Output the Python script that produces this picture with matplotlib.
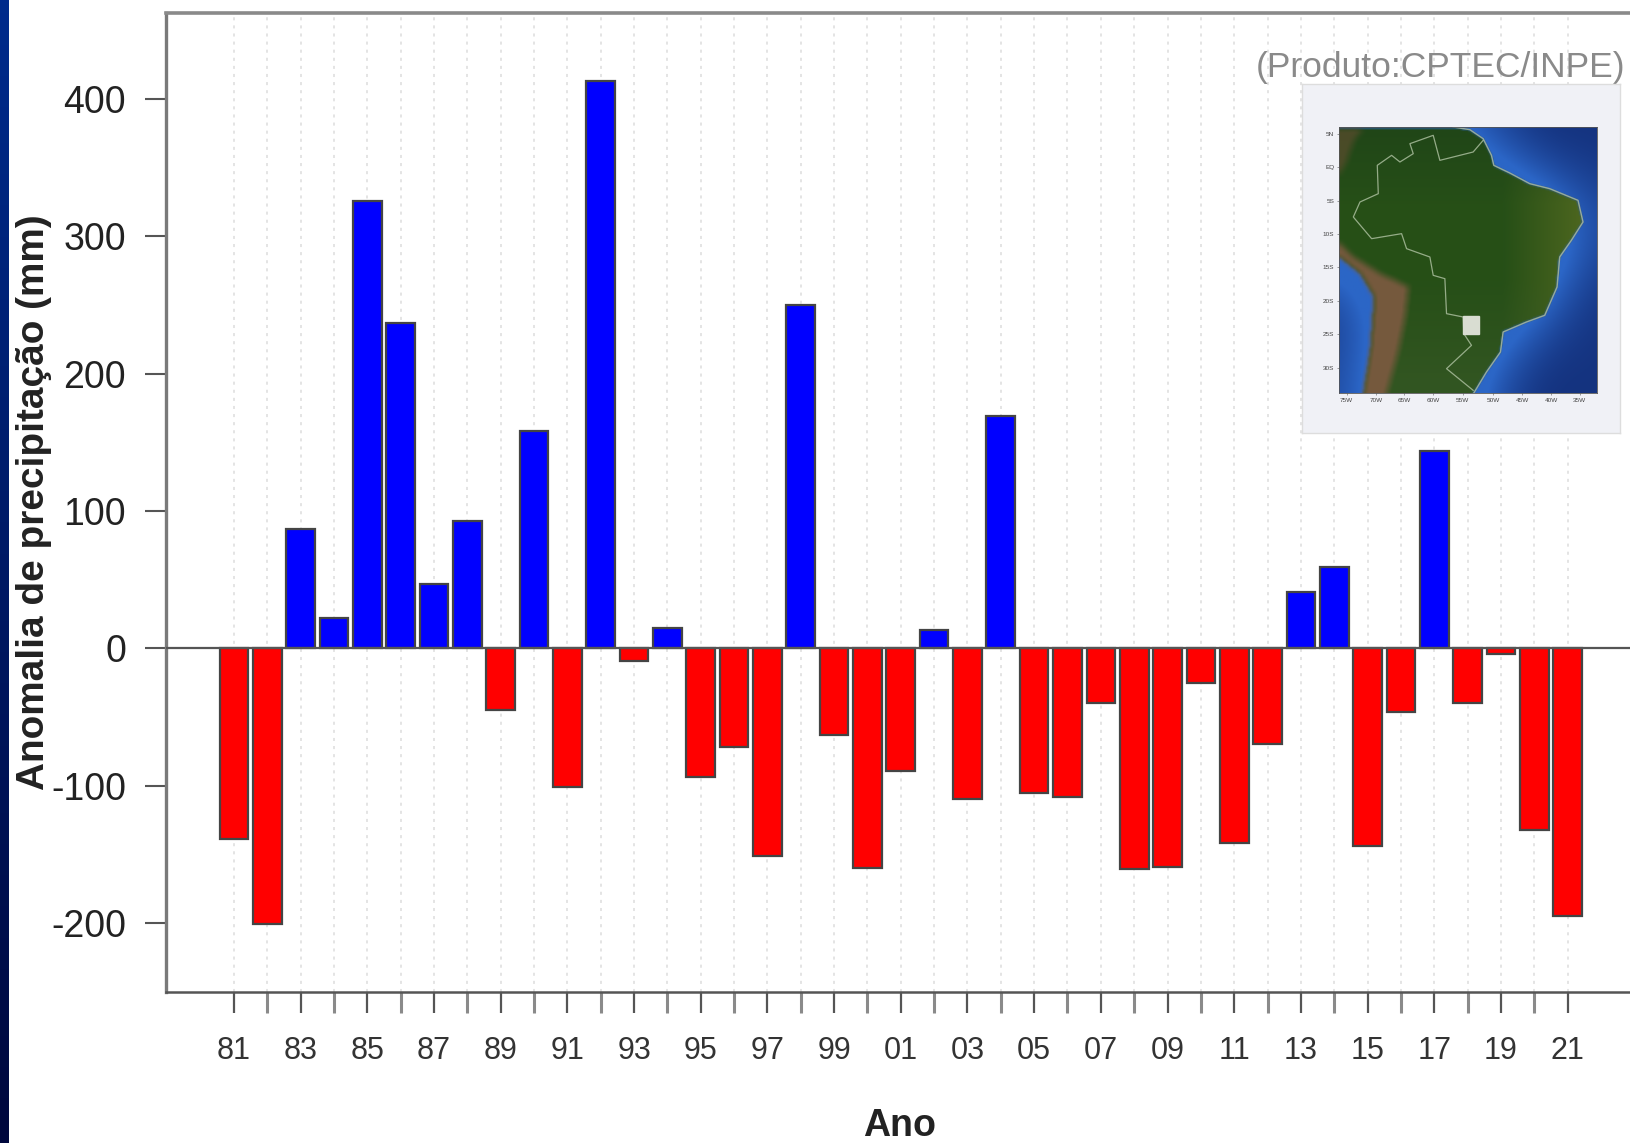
import numpy as np
import matplotlib
matplotlib.use("Agg")
import matplotlib.pyplot as plt
from matplotlib.path import Path

plt.rcParams['font.family'] = ['Liberation Sans', 'DejaVu Sans']

years = list(range(1981, 2022))
anomaly = [-139, -201, 87, 22, 326, 237, 47, 93, -45, 158, -101, 413, -9, 15, -94, -72, -151,
           250, -63, -160, -89, 13, -110, 169, -105, -108, -40, -161, -159, -25, -142, -70,
           41, 59, -144, -46, 144, -40, -4, -132, -195]
year_labels = [f"{y % 100:02d}" for y in years]
y_ticks = [-200, -100, 0, 100, 200, 300, 400]

# Map inset outlines, traced as (x, y) on the crop of the map
coast_trace = [(550,290),(600,298),(640,325),(665,375),(672,405),(720,428),(780,460),(840,475),
               (925,510),(940,575),(905,630),(870,680),(862,770),(825,855),(770,875),(700,905),(692,965),
               (650,1025),(612,1088)]
land_trace = [(207,290)] + coast_trace + [(280,1088),(300,960),(312,800),(270,730),(207,680)]
andes_trace = [(207,640),(250,680),(330,730),(415,770),(405,860),(385,960),(350,1088),(280,1088),(300,960),
               (312,800),(270,730),(207,680)]
north_andes_trace = [(207,290),(280,290),(250,330),(225,400),(207,430)]
border_trace = [(640,330),(610,365),(510,390),(490,315),(420,340),(430,370),(390,395),(365,375),(322,405),
                (325,490),(270,515),(250,560),(305,625),(395,610),(410,655),(480,680),(490,735),(525,745),
                (530,850),(580,860),(582,910),(605,945),(530,1015),(610,1080)]
box_trace = [(578,857),(628,857),(628,912),(578,912),(578,857)]
lon_labels = ["75W","70W","65W","60W","55W","50W","45W","40W","35W"]
lon_ticks = [230,318,402,490,578,670,757,845,930]
lat_labels = ["5N","EQ","5S","10S","15S","20S","25S","30S"]
lat_ticks = [310,410,512,612,711,812,911,1012]

W, H = 1631, 1143
fig = plt.figure(figsize=(W/100, H/100), dpi=100, facecolor='white')

def px_axes(x0, y0, x1, y1, **kw):
    return fig.add_axes([x0/W, 1-y1/H, (x1-x0)/W, (y1-y0)/H], **kw)

# Left slide band
band = px_axes(0, 0, 9, H)
t = np.linspace(0, 1, 256)[:, None, None]
top = np.array([0.0, 0.17, 0.55])
bot = np.array([0.0, 0.03, 0.24])
band.imshow(top*(1-t) + bot*t, aspect='auto')
band.axis('off')

# Main axes (running off the right edge of the figure)
AX0, AX1, AY0, AY1 = 166.5, 1645, 13, 992
ax = px_axes(AX0, AY0, AX1, AY1)
ppy = (923-99)/600
y0px = 99 + 400*ppy
ax.set_ylim((y0px-AY1)/ppy, (y0px-AY0)/ppy)
ppx = 33.34
ax.set_xlim(1981-(234-AX0)/ppx, 1981+(AX1-234)/ppx)

ax.set_axisbelow(True)
ax.grid(axis='x', color='#dcdcdc', linestyle=(0, (2, 3.3)), linewidth=1.1)
ax.grid(axis='y', visible=False)
colors = ['#0000ff' if v > 0 else '#ff0000' for v in anomaly]
ax.bar(years, anomaly, width=0.86, color=colors, edgecolor='#444444', linewidth=1.6, zorder=3)
ax.axhline(0, color='#555555', linewidth=1.6, zorder=4)

ax.spines['right'].set_visible(False)
for s, c, lw in [('left', '#7a7a7a', 2.4), ('top', '#8a8a8a', 2.6), ('bottom', '#555555', 1.8)]:
    ax.spines[s].set_color(c)
    ax.spines[s].set_linewidth(lw)

ax.set_yticks(y_ticks)
ax.set_yticklabels([str(v) for v in y_ticks])
ax.tick_params(axis='y', length=15, width=1.5, color='#555555', labelsize=27, labelcolor='#222222', pad=14)
ax.set_xticks(years)
ax.set_xticklabels([l if i % 2 == 0 else '' for i, l in enumerate(year_labels)])
ax.tick_params(axis='x', length=15, width=1.6, color='#555555', labelsize=22, labelcolor='#333333', pad=17)
for i, tk in enumerate(ax.xaxis.get_major_ticks()):
    if i % 2 == 1:
        tk.tick1line.set_markeredgecolor('#8a8a8a')
        tk.tick1line.set_markeredgewidth(2.2)

fig.text(900/W, 1-1126/H, 'Ano', fontsize=27, fontweight='bold', color='#222222', ha='center', va='center')
fig.text(34/W, 1-502/H, 'Anomalia de precipitação (mm)', fontsize=27.9, fontweight='bold', color='#222222',
         rotation=90, ha='center', va='center')
fig.text(1441/W, 1-68/H, '(Produto:CPTEC/INPE)', fontsize=25.5, color='#8a8a8a', ha='center', va='center')

# Inset: panel and map
panel = px_axes(1302, 84, 1620, 433)
panel.set_facecolor('#f0f1f6')
panel.set_xticks([]); panel.set_yticks([])
for s in panel.spines.values():
    s.set_color('#dddddd'); s.set_linewidth(1)
panel.set_zorder(5)

mp = px_axes(1339, 127, 1597, 393)
mp.set_zorder(6)
XL, XR, YB, YT = 207, 982, 1088, 290
nx, ny = 200, 206
xs = np.linspace(XL, XR, nx); ys = np.linspace(YT, YB, ny)
gx, gy = np.meshgrid(xs, ys)
pts = np.c_[gx.ravel(), gy.ravel()]
land = Path(land_trace).contains_points(pts).reshape(ny, nx).astype(float)
andes = Path(andes_trace).contains_points(pts).reshape(ny, nx).astype(float)
nandes = Path(north_andes_trace).contains_points(pts).reshape(ny, nx).astype(float)

def blur(a, n):
    k = np.ones(2*n+1)/(2*n+1)
    a = np.pad(a, n, mode='edge')
    a = np.apply_along_axis(lambda r: np.convolve(r, k, mode='valid'), 0, a)
    return np.apply_along_axis(lambda r: np.convolve(r, k, mode='valid'), 1, a)

glow = blur(blur(land, 30), 30)[..., None]
g = np.clip(glow*2.2, 0, 1)
ocean = np.array([0.08, 0.20, 0.50])*(1-g) + np.array([0.17, 0.40, 0.78])*g
m1 = blur(land, 1)[..., None]
m2 = blur(andes, 3)[..., None]
m3 = blur(nandes, 3)[..., None]
east = np.clip((gx-700)/240, 0, 1)[..., None]
north = np.clip((520-gy)/230, 0, 1)[..., None]
green = np.array([0.15, 0.31, 0.09])*(1-east) + np.array([0.30, 0.40, 0.12])*east
green = green*(1-north*0.4) + np.array([0.09, 0.22, 0.10])*north*0.4
south = np.clip((gy-750)/300, 0, 1)[..., None]
green = green*(1-south*0.5) + np.array([0.24, 0.36, 0.17])*south*0.5
img = ocean*(1-m1) + green*m1
img = img*(1-m2) + np.array([0.46, 0.35, 0.24])*m2
img = img*(1-m3*0.7) + np.array([0.36, 0.30, 0.18])*m3*0.7
mp.imshow(img, extent=(XL, XR, YB, YT), aspect='auto', interpolation='bilinear')
mp.plot(*zip(*coast_trace), color='#a9b8a0', lw=1.0, alpha=0.85)
mp.plot(*zip(*border_trace), color='#a9bd9c', lw=0.9, alpha=0.85)
mp.fill(*zip(*box_trace), color='#d9ddd2', zorder=5)
mp.set_xlim(XL, XR); mp.set_ylim(YB, YT)
mp.set_xticks(lon_ticks); mp.set_xticklabels(lon_labels)
mp.set_yticks(lat_ticks); mp.set_yticklabels(lat_labels)
mp.tick_params(length=1.5, width=0.4, labelsize=4.6, labelcolor='#444444', color='#555555', pad=2)
for s in mp.spines.values():
    s.set_color('#555555'); s.set_linewidth(0.6)

fig.savefig('out.png', dpi=100)
